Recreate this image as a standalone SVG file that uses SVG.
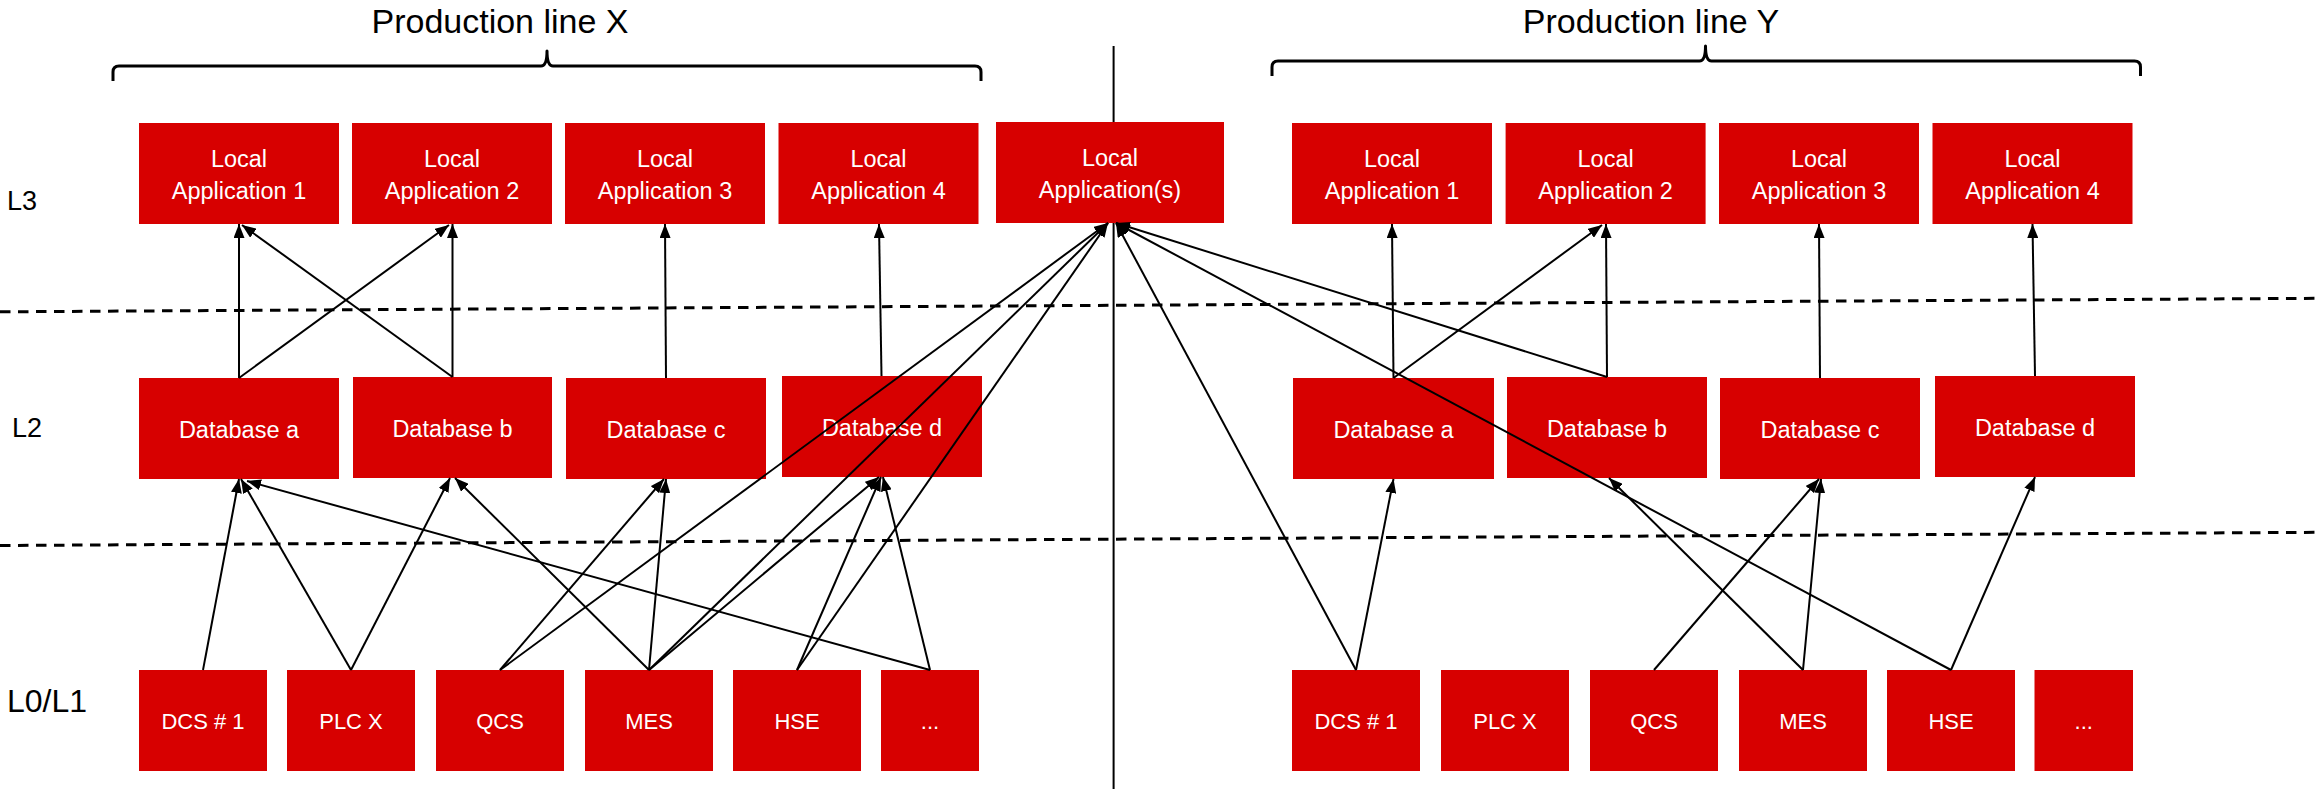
<svg xmlns="http://www.w3.org/2000/svg" width="2320" height="789" viewBox="0 0 2320 789">
  <style>
    .node rect { fill: #D70000; }
    .node text { fill: #ffffff; font-family: "Liberation Sans", Arial, sans-serif; font-size: 23.5px; text-anchor: middle; }
    .node.sys text { font-size: 22px; }
    .lbl { fill: #000000; font-family: "Liberation Sans", Arial, sans-serif; }
    .title { font-size: 34px; text-anchor: middle; }
    .tier { font-size: 27px; }
    .brace { fill: none; stroke: #000000; stroke-width: 3; stroke-linejoin: round; }
    .level { stroke: #000000; stroke-width: 3; stroke-dasharray: 10.5 7.5; }
    .divider { stroke: #000000; stroke-width: 2; }
    #connectors line { stroke: #000000; stroke-width: 2; marker-end: url(#arrow); }
  </style>
  <defs>
    <marker id="arrow" markerUnits="userSpaceOnUse" markerWidth="15" markerHeight="11" refX="14" refY="5.5" orient="auto">
      <path d="M0,0 L14,5.5 L0,11 Z" fill="#000000"/>
    </marker>
  </defs>

  <rect width="2320" height="789" fill="#ffffff"/>

  <!-- headings and braces -->
  <text class="lbl title" x="500" y="33">Production line X</text>
  <text class="lbl title" x="1651" y="33">Production line Y</text>
  <path class="brace" d="M113,81 V72 Q113,66 119,66 H541 Q547,66 547,51 Q547,66 553,66 H975 Q981,66 981,72 V81"/>
  <path class="brace" d="M1272,76 V67 Q1272,61 1278,61 H1699.5 Q1705.5,61 1705.5,46 Q1705.5,61 1711.5,61 H2134.5 Q2140.5,61 2140.5,67 V76"/>

  <!-- tier labels -->
  <text class="lbl tier" x="7" y="210">L3</text>
  <text class="lbl tier" x="12" y="437">L2</text>
  <text class="lbl" x="7" y="712" font-size="32">L0/L1</text>

  <!-- level separators and line split -->
  <line class="level" x1="0" y1="311.8" x2="2320" y2="298.3"/>
  <line class="level" x1="0" y1="545.5" x2="2320" y2="532.3"/>
  <line class="divider" x1="1113.6" y1="46" x2="1113.6" y2="789"/>

  <!-- L3 applications, line X -->
  <g id="app-x1" class="node"><rect x="139" y="123" width="200" height="101"/><text x="239" y="167">Local</text><text x="239" y="198.5">Application 1</text></g>
  <g id="app-x2" class="node"><rect x="352" y="123" width="200" height="101"/><text x="452" y="167">Local</text><text x="452" y="198.5">Application 2</text></g>
  <g id="app-x3" class="node"><rect x="565" y="123" width="200" height="101"/><text x="665" y="167">Local</text><text x="665" y="198.5">Application 3</text></g>
  <g id="app-x4" class="node"><rect x="778.5" y="123" width="200" height="101"/><text x="878.5" y="167">Local</text><text x="878.5" y="198.5">Application 4</text></g>
  <!-- shared application -->
  <g id="app-shared" class="node"><rect x="996" y="122" width="228" height="101"/><text x="1110" y="166">Local</text><text x="1110" y="197.5">Application(s)</text></g>
  <!-- L3 applications, line Y -->
  <g id="app-y1" class="node"><rect x="1292" y="123" width="200" height="101"/><text x="1392" y="167">Local</text><text x="1392" y="198.5">Application 1</text></g>
  <g id="app-y2" class="node"><rect x="1505.6" y="123" width="200" height="101"/><text x="1605.6" y="167">Local</text><text x="1605.6" y="198.5">Application 2</text></g>
  <g id="app-y3" class="node"><rect x="1719" y="123" width="200" height="101"/><text x="1819" y="167">Local</text><text x="1819" y="198.5">Application 3</text></g>
  <g id="app-y4" class="node"><rect x="1932.5" y="123" width="200" height="101"/><text x="2032.5" y="167">Local</text><text x="2032.5" y="198.5">Application 4</text></g>

  <!-- L2 databases, line X -->
  <g id="db-xa" class="node"><rect x="139" y="378" width="200" height="101"/><text x="239" y="437.5">Database a</text></g>
  <g id="db-xb" class="node"><rect x="353" y="377" width="199" height="101"/><text x="452.5" y="436.5">Database b</text></g>
  <g id="db-xc" class="node"><rect x="566" y="378" width="200" height="101"/><text x="666" y="437.5">Database c</text></g>
  <g id="db-xd" class="node"><rect x="782" y="376" width="200" height="101"/><text x="882" y="435.5">Database d</text></g>
  <!-- L2 databases, line Y -->
  <g id="db-ya" class="node"><rect x="1293" y="378" width="201" height="101"/><text x="1393.5" y="437.5">Database a</text></g>
  <g id="db-yb" class="node"><rect x="1507" y="377" width="200" height="101"/><text x="1607" y="436.5">Database b</text></g>
  <g id="db-yc" class="node"><rect x="1720" y="378" width="200" height="101"/><text x="1820" y="437.5">Database c</text></g>
  <g id="db-yd" class="node"><rect x="1935" y="376" width="200" height="101"/><text x="2035" y="435.5">Database d</text></g>

  <!-- L0/L1 systems, line X -->
  <g id="dcs-x" class="node sys"><rect x="139" y="670" width="128" height="101"/><text x="203" y="729">DCS # 1</text></g>
  <g id="plc-x" class="node sys"><rect x="287" y="670" width="128" height="101"/><text x="351" y="729">PLC X</text></g>
  <g id="qcs-x" class="node sys"><rect x="436" y="670" width="128" height="101"/><text x="500" y="729">QCS</text></g>
  <g id="mes-x" class="node sys"><rect x="585" y="670" width="128" height="101"/><text x="649" y="729">MES</text></g>
  <g id="hse-x" class="node sys"><rect x="733" y="670" width="128" height="101"/><text x="797" y="729">HSE</text></g>
  <g id="etc-x" class="node sys"><rect x="881" y="670" width="98" height="101"/><text x="930" y="729">...</text></g>
  <!-- L0/L1 systems, line Y -->
  <g id="dcs-y" class="node sys"><rect x="1292" y="670" width="128" height="101"/><text x="1356" y="729">DCS # 1</text></g>
  <g id="plc-y" class="node sys"><rect x="1441" y="670" width="128" height="101"/><text x="1505" y="729">PLC X</text></g>
  <g id="qcs-y" class="node sys"><rect x="1590" y="670" width="128" height="101"/><text x="1654" y="729">QCS</text></g>
  <g id="mes-y" class="node sys"><rect x="1739" y="670" width="128" height="101"/><text x="1803" y="729">MES</text></g>
  <g id="hse-y" class="node sys"><rect x="1887" y="670" width="128" height="101"/><text x="1951" y="729">HSE</text></g>
  <g id="etc-y" class="node sys"><rect x="2034.5" y="670" width="98.5" height="101"/><text x="2083.75" y="729">...</text></g>

  <g id="connectors">
    <!-- L2 to L3, line X -->
    <line x1="239" y1="378" x2="239" y2="224"/>
    <line x1="239" y1="378" x2="449" y2="225"/>
    <line x1="452.5" y1="377" x2="242" y2="225"/>
    <line x1="452.5" y1="377" x2="452.5" y2="224"/>
    <line x1="666" y1="378" x2="665" y2="224"/>
    <line x1="881.5" y1="376" x2="879" y2="224"/>
    <!-- L2 to L3, line Y -->
    <line x1="1393.5" y1="378" x2="1392" y2="224"/>
    <line x1="1393.5" y1="378" x2="1602" y2="225"/>
    <line x1="1607" y1="377" x2="1606" y2="224"/>
    <line x1="1820" y1="378" x2="1819" y2="224"/>
    <line x1="2035" y1="376" x2="2032.5" y2="224"/>
    <!-- feeds into the shared application -->
    <line x1="500" y1="670" x2="1108" y2="223"/>
    <line x1="649" y1="670" x2="1108" y2="223"/>
    <line x1="797" y1="670" x2="1108" y2="223"/>
    <line x1="1356" y1="670" x2="1116" y2="223"/>
    <line x1="1951" y1="670" x2="1116" y2="223"/>
    <line x1="1607" y1="377" x2="1116" y2="223"/>
    <!-- L0/L1 to L2, line X -->
    <line x1="203" y1="670" x2="239" y2="479"/>
    <line x1="351" y1="670" x2="241" y2="479"/>
    <line x1="930" y1="670" x2="247" y2="481"/>
    <line x1="351" y1="670" x2="450" y2="478"/>
    <line x1="649" y1="670" x2="455" y2="478"/>
    <line x1="500" y1="670" x2="664" y2="479"/>
    <line x1="649" y1="670" x2="666" y2="479"/>
    <line x1="649" y1="670" x2="879" y2="477"/>
    <line x1="797" y1="670" x2="881" y2="477"/>
    <line x1="930" y1="670" x2="883" y2="477"/>
    <!-- L0/L1 to L2, line Y -->
    <line x1="1356" y1="670" x2="1393.5" y2="479"/>
    <line x1="1654" y1="670" x2="1819" y2="479"/>
    <line x1="1803" y1="670" x2="1609" y2="478"/>
    <line x1="1803" y1="670" x2="1821" y2="479"/>
    <line x1="1951" y1="670" x2="2035" y2="477"/>
  </g>
</svg>
